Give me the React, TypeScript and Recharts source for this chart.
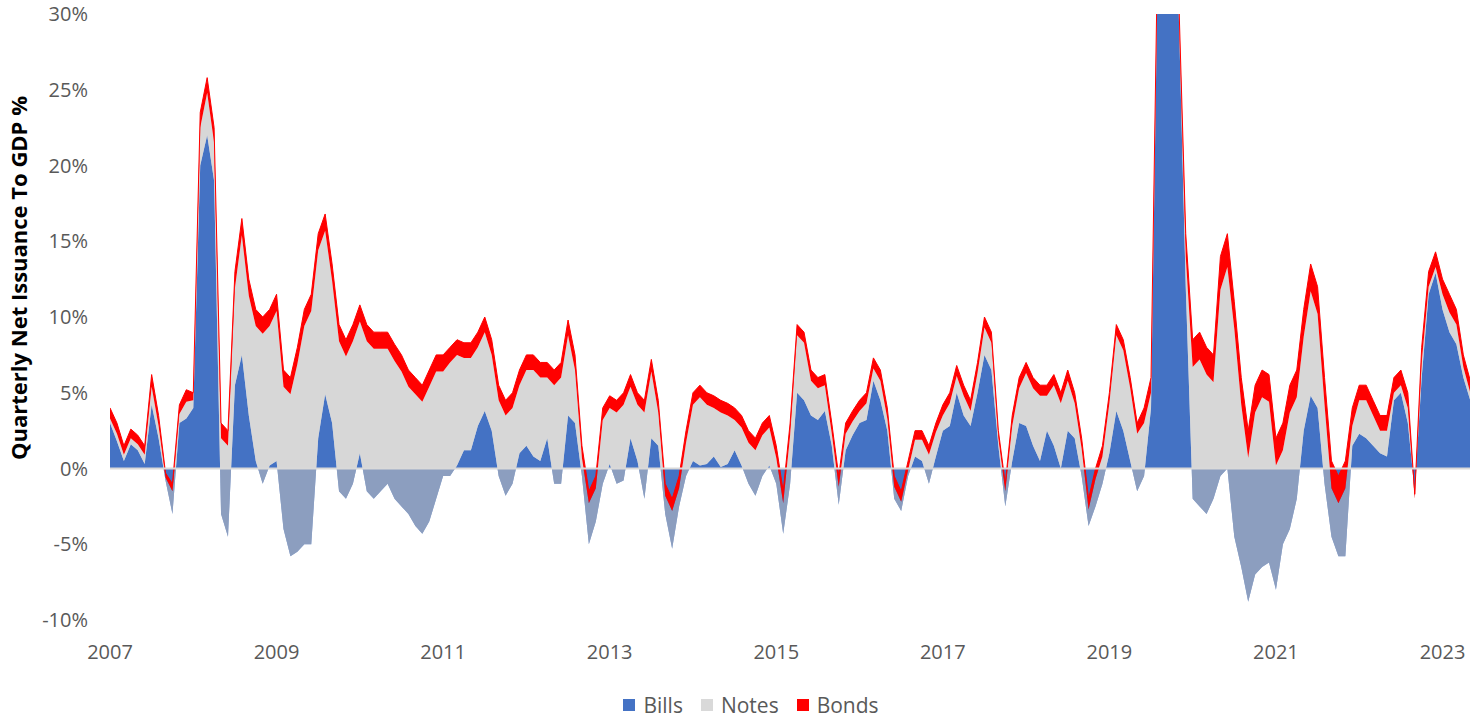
import React from "react";
import {
  AreaChart,
  Area,
  XAxis,
  YAxis,
  ReferenceLine,
  Legend
} from "recharts";

const billsColor = "#4472C4";
const notesColor = "#BDBDBD";
const bondsColor = "#FF0000";
const labelColor = "#595959";
const fontFamily = "'Open Sans', sans-serif";

// monthly readings, Jan 2007 onwards (% of GDP)
const startYear = 2007;

const bills = [
  3.0, 1.8, 0.5, 1.6, 1.2, 0.3, 4.2, 2.0, -0.8, -3.0, 3.0, 3.3,
  4.0, 20.0, 22.0, 19.0, -3.0, -4.5, 5.5, 7.5, 3.5, 0.5, -1.0, 0.2,
  0.5, -4.0, -5.8, -5.5, -5.0, -5.0, 2.0, 4.9, 3.0, -1.5, -2.0, -1.0,
  1.0, -1.5, -2.0, -1.5, -1.0, -2.0, -2.5, -3.0, -3.8, -4.3, -3.5, -2.0,
  -0.5, -0.5, 0.2, 1.2, 1.2, 2.8, 3.8, 2.5, -0.5, -1.8, -1.0, 1.0,
  1.5, 0.8, 0.5, 2.0, -1.0, -1.0, 3.5, 3.0, -0.5, -5.0, -3.5, -1.0,
  0.3, -1.0, -0.8, 2.0, 0.5, -2.0, 2.0, 1.5, -3.0, -5.3, -2.5, -0.5,
  0.5, 0.2, 0.3, 0.8, 0.1, 0.3, 1.2, 0.2, -1.0, -1.8, -0.5, 0.2,
  -1.0, -4.3, -1.0, 5.0, 4.5, 3.5, 3.2, 3.8, 1.5, -2.4, 1.2, 2.2,
  3.0, 3.2, 5.8, 4.5, 2.5, -2.0, -2.8, -0.5, 0.8, 0.5, -1.0, 0.8,
  2.5, 2.8, 5.0, 3.5, 2.8, 5.0, 7.5, 6.5, 1.5, -2.5, 0.5, 3.0,
  2.8, 1.5, 0.5, 2.5, 1.5, 0.0, 2.5, 2.0, -0.5, -3.8, -2.5, -1.0,
  1.0, 3.8, 2.5, 0.5, -1.5, -0.5, 4.0, 34.0, 38.0, 36.0, 30.0, 12.0,
  -2.0, -2.5, -3.0, -2.0, -0.5, 0.0, -4.5, -6.5, -8.8, -7.0, -6.5, -6.2,
  -8.0, -5.0, -4.0, -2.0, 2.5, 4.8, 4.0, -1.0, -4.5, -5.8, -5.8, 1.5,
  2.3, 2.0, 1.5, 1.0, 0.8, 4.5, 5.0, 3.0, -1.5, 6.0, 11.5, 12.9,
  10.5, 9.0, 8.2, 6.0, 4.5
];

const notes = [
  0.3, 0.5, 0.4, 0.4, 0.4, 0.6, 1.2, 0.8, 0.2, 1.5, 0.6, 1.1,
  0.5, 2.5, 2.8, 2.5, 5.0, 6.0, 6.4, 7.9, 7.9, 8.9, 9.9, 9.2,
  9.9, 9.4, 10.7, 12.4, 14.4, 15.4, 12.4, 10.8, 9.4, 9.9, 9.4, 9.4,
  8.7, 9.9, 9.9, 9.4, 8.9, 9.1, 8.9, 8.4, 8.7, 8.7, 8.9, 8.4,
  6.9, 7.5, 7.3, 6.1, 6.1, 5.2, 5.2, 5.0, 5.0, 5.3, 5.0, 4.5,
  5.0, 5.7, 5.5, 4.0, 6.5, 7.0, 5.3, 3.5, 1.2, 2.7, 2.2, 4.2,
  3.7, 4.7, 5.0, 3.4, 3.7, 5.7, 4.4, 2.2, 1.2, 2.5, 1.2, 2.2,
  3.7, 4.5, 3.9, 3.2, 3.6, 3.2, 2.0, 2.5, 2.7, 3.0, 2.7, 2.5,
  1.7, 2.0, 3.2, 3.8, 3.8, 2.3, 2.1, 1.7, 0.8, 1.2, 1.1, 0.9,
  0.8, 1.1, 0.8, 1.3, 0.8, 0.8, 0.6, 0.4, 1.1, 1.4, 1.9, 1.6,
  1.0, 1.5, 1.1, 1.3, 1.0, 1.3, 1.8, 1.8, 0.5, 1.0, 2.3, 2.3,
  3.5, 3.8, 4.3, 2.3, 4.0, 4.3, 3.3, 2.3, 1.8, 1.1, 1.8, 1.8,
  3.3, 5.0, 5.3, 4.8, 3.8, 3.5, 1.0, 1.0, 1.0, 1.0, 0.5, 2.0,
  8.7, 9.7, 9.2, 7.7, 12.3, 13.3, 13.7, 10.7, 9.5, 10.7, 11.2, 10.6,
  8.2, 6.2, 7.7, 6.7, 6.2, 6.9, 6.2, 5.2, 3.2, 3.5, 4.5, 1.3,
  2.2, 2.5, 2.0, 1.5, 1.7, 0.5, 0.5, 1.0, -0.5, 1.0, 0.5, 0.4,
  1.0, 1.3, 1.3, 0.7, 0.5
];

const bonds = [
  0.7, 0.7, 0.6, 0.6, 0.6, 0.6, 0.8, 0.7, 0.3, 0.5, 0.6, 0.8,
  0.5, 1.0, 1.0, 1.0, 1.0, 1.0, 1.1, 1.1, 1.1, 1.1, 1.1, 1.1,
  1.1, 1.1, 1.1, 1.1, 1.1, 1.1, 1.1, 1.1, 1.1, 1.1, 1.1, 1.1,
  1.1, 1.1, 1.1, 1.1, 1.1, 1.1, 1.1, 1.1, 1.1, 1.1, 1.1, 1.1,
  1.1, 1.0, 1.0, 1.0, 1.0, 1.0, 1.0, 1.0, 1.0, 1.0, 1.0, 1.0,
  1.0, 1.0, 1.0, 1.0, 1.0, 1.0, 1.0, 1.0, 0.8, 0.8, 0.8, 0.8,
  0.8, 0.8, 0.8, 0.8, 0.8, 0.8, 0.8, 0.8, 0.8, 0.8, 0.8, 0.8,
  0.8, 0.8, 0.8, 0.8, 0.8, 0.8, 0.8, 0.8, 0.8, 0.8, 0.8, 0.8,
  0.8, 0.8, 0.8, 0.7, 0.7, 0.7, 0.7, 0.7, 0.7, 0.7, 0.7, 0.7,
  0.7, 0.7, 0.7, 0.7, 0.7, 0.7, 0.7, 0.6, 0.6, 0.6, 0.6, 0.6,
  0.7, 0.7, 0.7, 0.7, 0.7, 0.7, 0.7, 0.7, 0.5, 0.5, 0.7, 0.7,
  0.7, 0.7, 0.7, 0.7, 0.7, 0.7, 0.7, 0.7, 0.7, 0.7, 0.7, 0.7,
  0.7, 0.7, 0.7, 0.7, 0.7, 1.0, 1.0, 1.0, 1.0, 1.0, 0.5, 1.5,
  1.8, 1.8, 1.8, 1.8, 2.2, 2.2, 1.8, 1.8, 1.8, 1.8, 1.8, 1.8,
  1.8, 1.8, 1.8, 1.8, 1.8, 1.8, 1.8, 1.8, 1.8, 1.8, 1.8, 1.2,
  1.0, 1.0, 1.0, 1.0, 1.0, 1.0, 1.0, 1.0, 0.3, 1.0, 1.0, 1.0,
  1.0, 1.2, 1.0, 0.8, 0.8
];

const yearTicks = [2007, 2009, 2011, 2013, 2015, 2017, 2019, 2021, 2023];
const percentTicks = [-10, -5, 0, 5, 10, 15, 20, 25, 30];

const data = bills.map((b, i) => ({
  t: startYear + i / 12,
  Bills: b,
  Notes: notes[i],
  Bonds: bonds[i]
}));

const legendItems = [
  { name: "Bills", color: billsColor },
  { name: "Notes", color: "#D9D9D9" },
  { name: "Bonds", color: bondsColor }
];

function renderLegend() {
  return (
    <div
      style={{
        height: 40,
        boxSizing: "border-box",
        paddingTop: 16,
        paddingLeft: 32,
        display: "flex",
        justifyContent: "center",
        alignItems: "center",
        fontFamily,
        fontSize: 21,
        color: labelColor,
        lineHeight: "24px"
      }}
    >
      {legendItems.map(item => (
        <span
          key={item.name}
          style={{ display: "inline-flex", alignItems: "center", margin: "0 9px" }}
        >
          <span
            style={{
              display: "inline-block",
              width: 12,
              height: 12,
              background: item.color,
              marginRight: 8
            }}
          />
          {item.name}
        </span>
      ))}
    </div>
  );
}

function AxisTitle() {
  return (
    <text
      x={18}
      y={278}
      transform="rotate(-90, 18, 278)"
      textAnchor="middle"
      dominantBaseline="central"
      fontFamily={fontFamily}
      fontWeight={700}
      fontSize={22}
      fill="#000"
    >
      Quarterly Net Issuance To GDP %
    </text>
  );
}

export default function App() {
  return (
    <div
      style={{
        position: "absolute",
        left: 0,
        top: 0,
        width: 1470,
        height: 717,
        background: "#fff"
      }}
    >
      <AreaChart
        width={1470}
        height={717}
        data={data}
        margin={{ top: 14, right: 0, bottom: 0, left: 0 }}
      >
        <XAxis
          type="number"
          dataKey="t"
          domain={[2007, 2023.33]}
          ticks={yearTicks}
          allowDataOverflow
          tickFormatter={v => String(Math.round(v))}
          axisLine={false}
          tickLine={false}
          height={57}
          tickMargin={19}
          tick={{ fill: labelColor, fontSize: 20, fontFamily }}
        />
        <YAxis
          domain={[-10, 30]}
          ticks={percentTicks}
          allowDataOverflow
          width={110}
          tickFormatter={v => v + "%"}
          axisLine={false}
          tickLine={false}
          tickMargin={16}
          tick={{ fill: labelColor, fontSize: 20, fontFamily }}
          label={<AxisTitle />}
        />
        <Area
          isAnimationActive={false}
          type="linear"
          dataKey="Bills"
          stackId="a"
          stroke="none"
          fill={billsColor}
          fillOpacity={1}
        />
        {/* translucent so the negative bills show through as pale blue */}
        <Area
          isAnimationActive={false}
          type="linear"
          dataKey="Notes"
          stackId="a"
          stroke="none"
          fill={notesColor}
          fillOpacity={0.6}
        />
        <Area
          isAnimationActive={false}
          type="linear"
          dataKey="Bonds"
          stackId="a"
          stroke={bondsColor}
          strokeWidth={1}
          fill={bondsColor}
          fillOpacity={1}
        />
        <ReferenceLine y={0} stroke="#D9D9D9" strokeWidth={2} />
        <Legend verticalAlign="bottom" content={renderLegend} />
      </AreaChart>
    </div>
  );
}
